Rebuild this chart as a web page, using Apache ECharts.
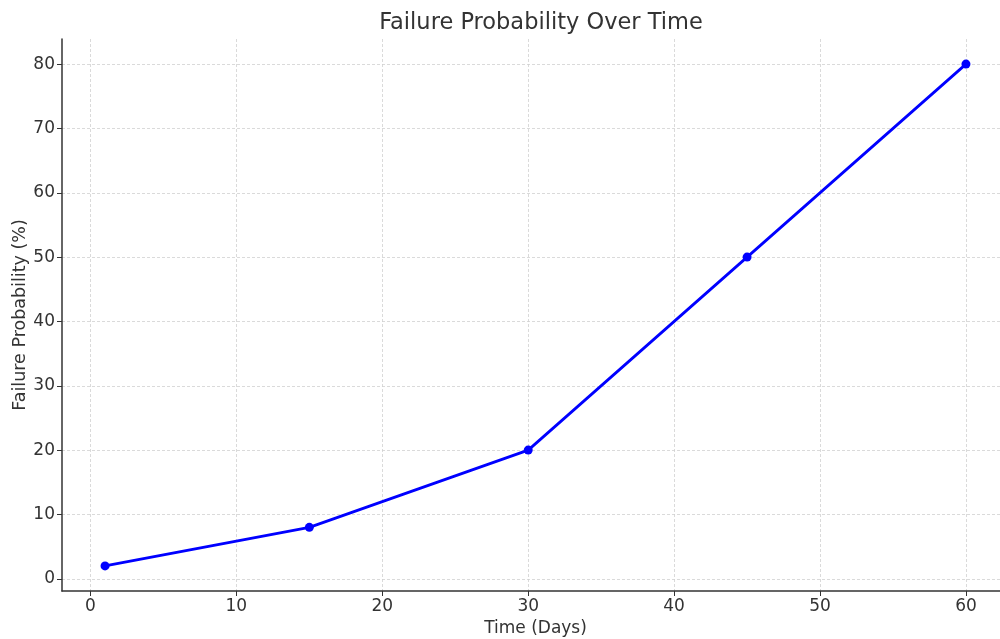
<!DOCTYPE html>
<html><head><meta charset="utf-8">
<script src="https://cdn.jsdelivr.net/npm/echarts@6/dist/echarts.min.js"></script>
<style>html,body{margin:0;padding:0;background:#fff}#c{width:1000px;height:639px}</style>
</head><body><div id="c"></div>
<script>
const days = [1, 15, 30, 45, 60];
const failureProb = [2, 8, 20, 50, 80];
const xTicks = [0, 10, 20, 30, 40, 50, 60];
const yTicks = [0, 10, 20, 30, 40, 50, 60, 70, 80];

const chart = echarts.init(document.getElementById('c'));
const font = 'DejaVu Sans';
chart.setOption({
  animation: false,
  title: {text: 'Failure Probability Over Time', left: 536, top: 7, textAlign: 'center',
    textStyle: {fontFamily: font, fontSize: 22.5, fontWeight: 'normal', color: '#333'}},
  grid: {left: 62, right: -9, top: 39, bottom: 48, containLabel: false, outerBoundsMode: 'none'},
  xAxis: {type: 'value', min: -1.95, max: 62.95,
    name: 'Time (Days)', nameLocation: 'middle', nameGap: 29, nameMoveOverlap: false,
    nameTextStyle: {fontFamily: font, fontSize: 17, color: '#333'},
    axisLine: {show: true, onZero: false, lineStyle: {color: '#333', width: 1.5}},
    axisTick: {show: true, length: 5, customValues: xTicks, lineStyle: {color: '#333'}},
    axisLabel: {customValues: xTicks, fontFamily: font, fontSize: 17, color: '#333', margin: 7, showMinLabel: true, showMaxLabel: true},
    splitLine: {show: true, lineStyle: {color: '#d0d0d0', type: [3, 2], width: 0.8}}
  },
  yAxis: {type: 'value', min: -1.9, max: 83.9,
    name: 'Failure Probability (%)', nameLocation: 'middle', nameGap: 33, nameRotate: 90, nameMoveOverlap: false,
    nameTextStyle: {fontFamily: font, fontSize: 17.5, color: '#333'},
    axisLine: {show: true, onZero: false, lineStyle: {color: '#333', width: 1.5}},
    axisTick: {show: true, length: 5, customValues: yTicks, lineStyle: {color: '#333'}},
    axisLabel: {customValues: yTicks, fontFamily: font, fontSize: 17, color: '#333', margin: 7},
    splitLine: {show: true, lineStyle: {color: '#d0d0d0', type: [3, 2], width: 0.8}}
  },
  series: [{type: 'line', data: days.map((d, i) => [d, failureProb[i]]),
    symbol: 'circle', symbolSize: 9, showSymbol: true,
    lineStyle: {color: '#0000ff', width: 2.8}, itemStyle: {color: '#0000ff'}}]
});
</script></body></html>
